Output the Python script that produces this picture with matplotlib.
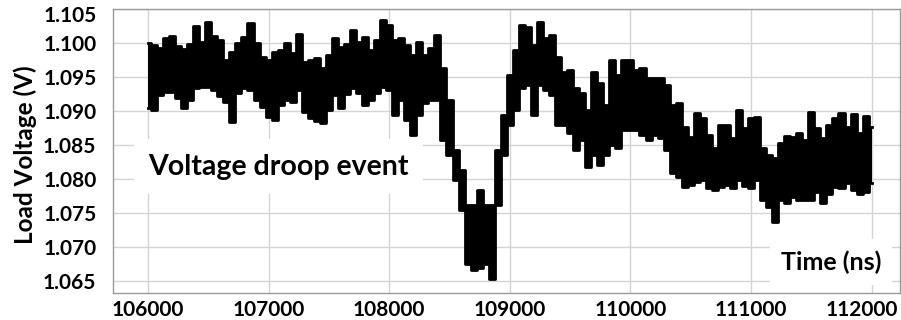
import numpy as np
import matplotlib
matplotlib.use("Agg")
import matplotlib.pyplot as plt
from matplotlib.transforms import ScaledTranslation

# Sampling grid of the read-off envelope (ns)
t_start, t_stop, t_step = 106000, 112000, 50

# Upper envelope of the noisy load-voltage trace (V), one value per 50 ns
v_high = [1.1000, 1.0997, 1.0993, 1.1007, 1.1010, 1.0996, 1.0991, 1.0999, 1.1025, 1.1001,
          1.1031, 1.1010, 1.1004, 1.0975, 1.0987, 1.1000, 1.1009, 1.1029, 1.1000, 1.0979,
          1.0975, 1.0987, 1.0990, 1.1000, 1.0985, 1.1013, 1.0972, 1.0975, 1.0978, 1.0963,
          1.0982, 1.1007, 1.0994, 1.0999, 1.1019, 1.1001, 1.1009, 1.0990, 1.1004, 1.1034,
          1.1026, 1.1004, 1.1007, 1.0997, 1.0982, 1.1001, 1.0982, 1.0993, 1.1012, 1.0963,
          1.0916, 1.0843, 1.0813, 1.0762, 1.0762, 1.0784, 1.0762, 1.0762, 1.0843, 1.0894,
          1.0953, 1.0990, 1.1026, 1.1024, 1.0997, 1.1031, 1.1007, 1.1012, 1.0979, 1.0957,
          1.0960, 1.0934, 1.0927, 1.0902, 1.0957, 1.0941, 1.0909, 1.0975, 1.0953, 1.0975,
          1.0975, 1.0960, 1.0963, 1.0949, 1.0949, 1.0949, 1.0938, 1.0909, 1.0912, 1.0877,
          1.0862, 1.0897, 1.0890, 1.0865, 1.0846, 1.0879, 1.0879, 1.0860, 1.0902, 1.0875,
          1.0890, 1.0891, 1.0846, 1.0835, 1.0831, 1.0853, 1.0863, 1.0862, 1.0868, 1.0857,
          1.0899, 1.0875, 1.0860, 1.0879, 1.0890, 1.0897, 1.0877, 1.0896, 1.0868, 1.0893,
          1.0877]

# Lower envelope of the trace (V), one value per 50 ns
v_low = [1.0904, 1.0902, 1.0924, 1.0928, 1.0928, 1.0919, 1.0904, 1.0916, 1.0934, 1.0935,
         1.0935, 1.0931, 1.0922, 1.0913, 1.0884, 1.0927, 1.0934, 1.0931, 1.0916, 1.0906,
         1.0891, 1.0887, 1.0909, 1.0916, 1.0913, 1.0931, 1.0899, 1.0890, 1.0885, 1.0882,
         1.0902, 1.0924, 1.0904, 1.0925, 1.0934, 1.0927, 1.0909, 1.0916, 1.0927, 1.0935,
         1.0931, 1.0894, 1.0916, 1.0887, 1.0865, 1.0894, 1.0912, 1.0916, 1.0916, 1.0857,
         1.0835, 1.0799, 1.0754, 1.0674, 1.0666, 1.0669, 1.0674, 1.0653, 1.0762, 1.0835,
         1.0879, 1.0902, 1.0934, 1.0938, 1.0894, 1.0938, 1.0931, 1.0924, 1.0879, 1.0879,
         1.0868, 1.0843, 1.0857, 1.0818, 1.0835, 1.0821, 1.0835, 1.0850, 1.0846, 1.0872,
         1.0872, 1.0872, 1.0865, 1.0857, 1.0865, 1.0860, 1.0843, 1.0809, 1.0803, 1.0788,
         1.0791, 1.0796, 1.0799, 1.0787, 1.0784, 1.0788, 1.0791, 1.0787, 1.0799, 1.0790,
         1.0787, 1.0799, 1.0769, 1.0759, 1.0737, 1.0769, 1.0765, 1.0774, 1.0769, 1.0769,
         1.0769, 1.0780, 1.0765, 1.0777, 1.0788, 1.0787, 1.0794, 1.0784, 1.0777, 1.0780,
         1.0794]

x_ticks = [106000, 107000, 108000, 109000, 110000, 111000, 112000]
y_ticks = [1.065, 1.070, 1.075, 1.080, 1.085, 1.090, 1.095, 1.100, 1.105]
y_tick_labels = ["1.065", "1.070", "1.075", "1.080", "1.085", "1.090", "1.095", "1.100", "1.105"]

y_label = "Load Voltage (V)"
x_label = "Time (ns)"
annotation = "Voltage droop event"

t = np.arange(t_start, t_stop + 1, t_step)

plt.rcParams['font.family'] = ['Lato', 'DejaVu Sans']
plt.rcParams['font.weight'] = 'bold'

fig = plt.figure(figsize=(9.01, 3.2), dpi=100)
ax = fig.add_axes([113 / 901, 1 - 293 / 320, (900 - 113) / 901, (293 - 9) / 320])

ax.fill_between(t, v_low, v_high, color='black', lw=0, zorder=4, step='mid')
ax.plot(t, v_high, color='black', lw=2.0, zorder=4, drawstyle='steps-mid')
ax.plot(t, v_low, color='black', lw=2.0, zorder=4, drawstyle='steps-mid')

ax.set_xlim(105710, 112235)
ax.set_ylim(1.0632, 1.105)
ax.set_xticks(x_ticks)
ax.set_xticklabels([str(v) for v in x_ticks])
ax.set_yticks(y_ticks)
ax.set_yticklabels(y_tick_labels)

ax.grid(True, color='#d4d4d4', lw=1.0, zorder=0)
ax.set_axisbelow(True)
for s in ax.spines.values():
    s.set_color('#9a9a9a')
    s.set_linewidth(1.0)

ax.tick_params(axis='both', length=0, labelsize=15, colors='black')
ax.tick_params(axis='x', pad=5)
ax.tick_params(axis='y', pad=12)
for lab in ax.get_xticklabels() + ax.get_yticklabels():
    lab.set_fontweight('bold')

# keep the last x label and the top y label inside the figure, as in the reference
last_x = ax.get_xticklabels()[-1]
last_x.set_transform(last_x.get_transform() + ScaledTranslation(-0.10, 0, fig.dpi_scale_trans))
top_y = ax.get_yticklabels()[-1]
top_y.set_transform(top_y.get_transform() + ScaledTranslation(0, -0.05, fig.dpi_scale_trans))

fig.text(25 / 901, 1 - 155 / 320, y_label, rotation=90, ha='center', va='center',
         fontsize=17.5, fontweight='bold')

ax.text(106000, 1.0818, annotation, ha='left', va='center', fontsize=20.5,
        fontweight='bold', zorder=3,
        bbox=dict(boxstyle='square,pad=0.5', facecolor='white', edgecolor='none'))
ax.text(111663, 1.0677, x_label, ha='center', va='center', fontsize=18,
        fontweight='bold', zorder=3,
        bbox=dict(boxstyle='square,pad=0.45', facecolor='white', edgecolor='none'))

fig.savefig("out.png", dpi=100)
